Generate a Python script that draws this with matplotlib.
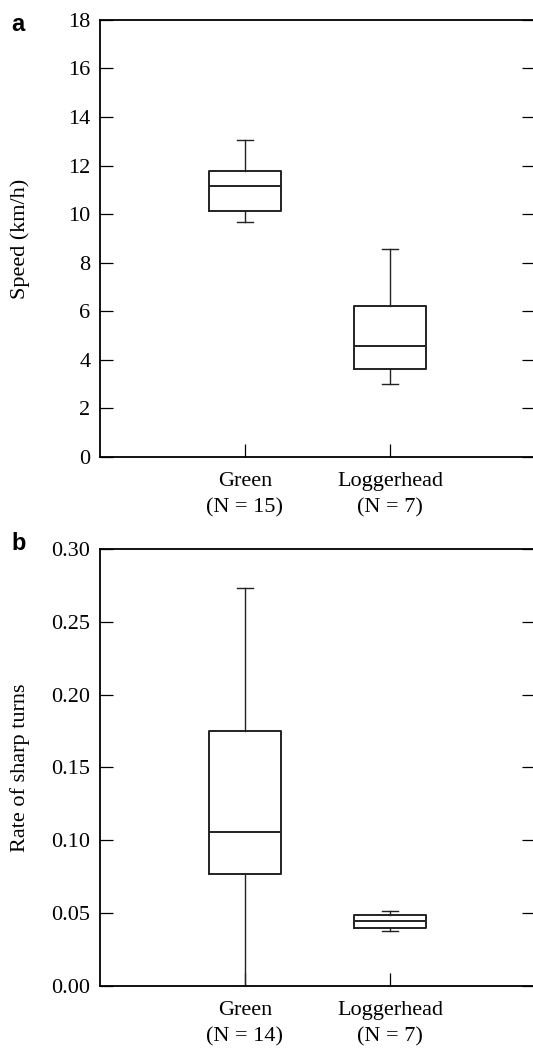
import matplotlib
matplotlib.use("Agg")
import matplotlib.pyplot as plt

plt.rcParams['font.family'] = ['Liberation Serif', 'DejaVu Serif']

# box statistics: whislo, q1, med, q3, whishi
groups = ['Green', 'Loggerhead']
speed_n = [15, 7]
speed_lo = [9.68, 2.99]
speed_q1 = [10.13, 3.64]
speed_med = [11.17, 4.57]
speed_q3 = [11.79, 6.23]
speed_hi = [13.06, 8.58]

turn_n = [14, 7]
turn_lo = [0.0, 0.038]
turn_q1 = [0.077, 0.0398]
turn_med = [0.1055, 0.0445]
turn_q3 = [0.175, 0.0486]
turn_hi = [0.2734, 0.0512]


def make_stats(lo, q1, med, q3, hi):
    stats = []
    for i in range(len(lo)):
        stats.append({'whislo': lo[i], 'q1': q1[i], 'med': med[i],
                      'q3': q3[i], 'whishi': hi[i], 'fliers': []})
    return stats


def draw_panel(ax, stats, n, ylim, yticks, fmt, ylabel):
    lw = 1.0
    ax.bxp(stats, positions=[1, 2], widths=0.5, capwidths=0.11,
           showfliers=False, patch_artist=False,
           boxprops=dict(color='#222222', linewidth=1.4),
           medianprops=dict(color='#222222', linewidth=1.4),
           whiskerprops=dict(color='#222222', linewidth=lw),
           capprops=dict(color='#222222', linewidth=lw))
    ax.set_xlim(0, 3)
    ax.set_ylim(*ylim)
    ax.set_yticks(yticks)
    ax.set_yticklabels([fmt.format(v) for v in yticks])
    ax.set_xticks([1, 2])
    ax.set_xticklabels(['%s\n(N = %d)' % (g, k) for g, k in zip(groups, n)],
                       linespacing=1.5)
    ax.tick_params(axis='y', direction='in', length=9.5, width=0.9,
                   right=True, labelsize=16, pad=7)
    ax.tick_params(axis='x', direction='in', length=9.5, width=0.9,
                   labelsize=16, pad=11)
    for side in ['left', 'bottom', 'top']:
        ax.spines[side].set_linewidth(1.3)
    ax.spines['right'].set_visible(False)
    ax.set_ylabel(ylabel, fontsize=16)
    ax.yaxis.set_label_coords(-0.16, 0.5)


fig = plt.figure(figsize=(5.33, 10.48), dpi=100)
ax1 = fig.add_axes([0.1876, 0.564, 0.816, 0.417])
ax2 = fig.add_axes([0.1876, 0.0592, 0.816, 0.417])

draw_panel(ax1, make_stats(speed_lo, speed_q1, speed_med, speed_q3, speed_hi),
           speed_n, (0, 18), list(range(0, 19, 2)), '{:d}', 'Speed (km/h)')
draw_panel(ax2, make_stats(turn_lo, turn_q1, turn_med, turn_q3, turn_hi),
           turn_n, (0, 0.30), [0.0, 0.05, 0.10, 0.15, 0.20, 0.25, 0.30],
           '{:.2f}', 'Rate of sharp turns')

fig.text(0.022, 0.977, 'a', fontsize=17, fontweight='bold',
         family='Liberation Sans', va='center', ha='left')
fig.text(0.022, 0.481, 'b', fontsize=17, fontweight='bold',
         family='Liberation Sans', va='center', ha='left')

fig.savefig('out.png', dpi=100)
